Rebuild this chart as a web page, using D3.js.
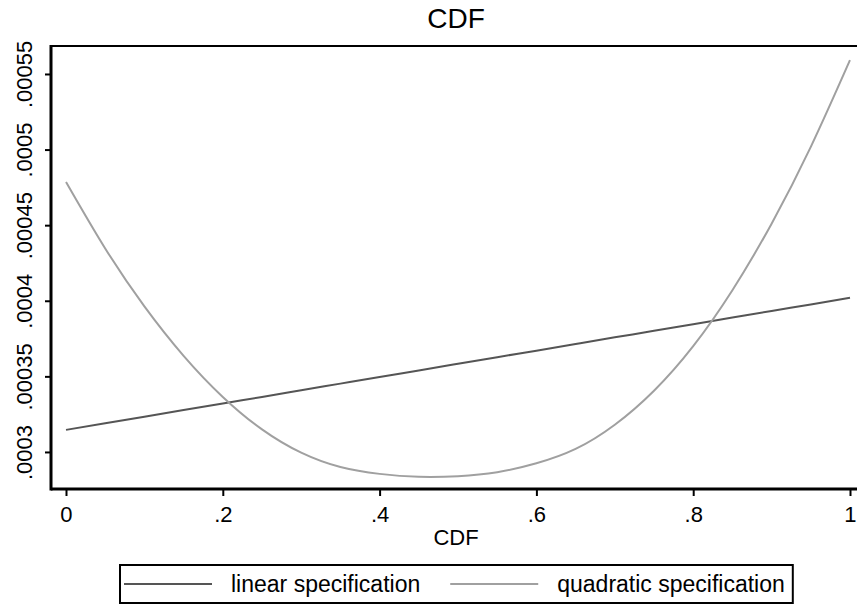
<!DOCTYPE html>
<html><head><meta charset="utf-8">
<script src="https://cdn.jsdelivr.net/npm/d3@7"></script>
<style>body{margin:0;background:#fff}svg{display:block;font-family:Arial,"Liberation Sans",sans-serif}</style>
</head><body><svg id="c" width="857" height="608"></svg>
<script>
const xValues = [0,0.05,0.1,0.15,0.2,0.25,0.3,0.35,0.4,0.45,0.5,0.55,0.6,0.65,0.7,0.75,0.8,0.85,0.9,0.95,1];
const linearSpec = [0.0003146,0.0003190,0.0003233,0.0003277,0.0003321,0.0003364,0.0003408,0.0003452,0.0003496,0.0003539,0.0003583,0.0003627,0.0003670,0.0003714,0.0003758,0.0003801,0.0003845,0.0003889,0.0003933,0.0003976,0.0004020];
const quadraticSpec = [0.0004786,0.0004346,0.0003963,0.0003636,0.0003364,0.0003149,0.0002995,0.0002900,0.0002855,0.0002836,0.0002840,0.0002866,0.0002925,0.0003020,0.0003180,0.0003405,0.0003700,0.0004070,0.0004510,0.0005018,0.0005592];
const xTicks = [0,0.2,0.4,0.6,0.8,1];
const xTickLabels = ["0",".2",".4",".6",".8","1"];
const yTicks = [0.0003,0.00035,0.0004,0.00045,0.0005,0.00055];
const yTickLabels = [".0003",".00035",".0004",".00045",".0005",".00055"];
const seriesNames = ["linear specification","quadratic specification"];
const seriesColors = ["#555555","#a0a0a0"];

const svg = d3.select("#c");
const L = 51, R = 857, T = 46, B = 489;
const x = d3.scaleLinear().domain([-0.01913, 1.00893]).range([L, R]);
const y = d3.scaleLinear().domain([0.0002755, 0.0005685]).range([B, T]);

// plot box
svg.append("rect").attr("x", L).attr("y", T).attr("width", R - L + 2).attr("height", B - T)
  .attr("fill", "none").attr("stroke", "#000").attr("stroke-width", 2);

// lines
const line = d3.line().x((d, i) => x(xValues[i])).y(d => y(d)).curve(d3.curveNatural);
[linearSpec, quadraticSpec].forEach((s, k) => {
  svg.append("path").datum(s).attr("d", line).attr("fill", "none")
    .attr("stroke", seriesColors[k]).attr("stroke-width", 2);
});

// axes
const xAxis = d3.axisBottom(x).tickValues(xTicks).tickFormat((d, i) => xTickLabels[i]).tickSize(7).tickPadding(10);
const gx = svg.append("g").attr("transform", `translate(0,${B})`).call(xAxis);
gx.select(".domain").remove();
gx.selectAll("line").attr("stroke", "#000").attr("stroke-width", 2);
gx.selectAll("text").attr("font-size", 22).attr("fill", "#000").attr("font-family", "Arial, 'Liberation Sans', sans-serif");
svg.append("line").attr("x1", L).attr("x2", R).attr("y1", B).attr("y2", B).attr("stroke", "#000").attr("stroke-width", 3);

const yAxis = d3.axisLeft(y).tickValues(yTicks).tickFormat((d, i) => yTickLabels[i]).tickSize(6);
const gy = svg.append("g").attr("transform", `translate(${L},0)`).call(yAxis);
gy.select(".domain").remove();
gy.selectAll("line").attr("stroke", "#000").attr("stroke-width", 2);
gy.selectAll("text").attr("font-size", 22).attr("fill", "#000").attr("font-family", "Arial, 'Liberation Sans', sans-serif")
  .attr("x", null).attr("dy", null).attr("text-anchor", "middle")
  .attr("transform", "translate(-19,0) rotate(-90)");
svg.append("line").attr("x1", L).attr("x2", L).attr("y1", T - 1).attr("y2", B + 1.5).attr("stroke", "#000").attr("stroke-width", 3);

// titles
const cx = (L + R) / 2 + 2;
svg.append("text").attr("x", cx).attr("y", 28).attr("text-anchor", "middle").attr("font-size", 28).text("CDF");
svg.append("text").attr("x", cx).attr("y", 545).attr("text-anchor", "middle").attr("font-size", 22).text("CDF");

// legend
const lg = svg.append("g");
const lx0 = 120, ly0 = 565, lh = 38;
let cur = lx0 + 4, lastEnd = 0;
seriesNames.forEach((name, k) => {
  lg.append("line").attr("x1", cur).attr("x2", cur + 88).attr("y1", ly0 + lh / 2).attr("y2", ly0 + lh / 2)
    .attr("stroke", seriesColors[k]).attr("stroke-width", 2);
  const t = lg.append("text").attr("x", cur + 107).attr("y", ly0 + 27).attr("font-size", 23).text(name);
  lastEnd = cur + 107 + t.node().getComputedTextLength();
  cur = lastEnd + 30;
});
lg.insert("rect", ":first-child").attr("x", lx0).attr("y", ly0).attr("width", lastEnd + 8 - lx0).attr("height", lh)
  .attr("fill", "#fff").attr("stroke", "#000").attr("stroke-width", 2);
</script></body></html>
